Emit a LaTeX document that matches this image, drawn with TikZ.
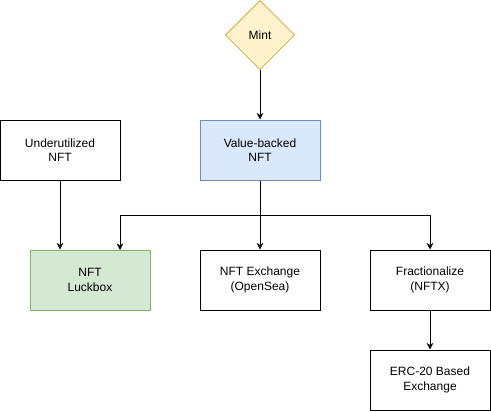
\documentclass[tikz,border=0pt]{standalone}
\usepackage{fontspec}
\setmainfont{Liberation Sans}
\usetikzlibrary{shapes.geometric,arrows.meta}

\definecolor{mintfill}{HTML}{FFF2CC}
\definecolor{mintline}{HTML}{D6B656}
\definecolor{bluefill}{HTML}{DAE8FC}
\definecolor{blueline}{HTML}{6C8EBF}
\definecolor{greenfill}{HTML}{D5E8D4}
\definecolor{greenline}{HTML}{82B366}

\tikzset{
	box/.style={draw, line width=0.75pt, minimum width=90pt, minimum height=45pt, align=center, font=\fontsize{9}{11}\selectfont},
	arrow/.style={line width=0.75pt, -{Stealth[length=5pt,width=5pt]}}
}

\begin{document}
\begin{tikzpicture}[x=0.75pt, y=-0.75pt]
			\useasboundingbox (0,0) rectangle (491,411);
			
			% Draw the mint diamond
			\node[diamond, draw=mintline, fill=mintfill, line width=0.75pt, minimum width=52pt, minimum height=52pt, inner sep=0pt, font=\fontsize{9}{11}\selectfont] (mint) at (260,35) {Mint};
			
			% Draw the top row
			\node[box] (under) at (60,150) {Underutilized\\NFT};
			\node[box, draw=blueline, fill=bluefill] (valued) at (260,150) {Value-backed\\NFT};
			
			% Draw the middle row
			\node[box, draw=greenline, fill=greenfill] (luckbox) at (90,280) {NFT\\Luckbox};
			\node[box] (exchange) at (260,280) {NFT Exchange\\(OpenSea)};
			\node[box] (fraction) at (430,280) {Fractionalize\\(NFTX)};
			
			% Draw the bottom box
			\node[box] (erc) at (430,380) {ERC-20 Based\\Exchange};
			
			% Split point and the second entry of the luckbox
			\coordinate (split) at (260,215);
			\coordinate (luckin) at (120,250);
			
			% Draw the arrows
			\draw[arrow] (mint) -- (valued);
			\draw[arrow] (under) -- (under |- luckbox.north);
			\draw[line width=0.75pt] (valued) -- (split);
			\draw[arrow] (split) -| (luckin);
			\draw[arrow] (split) -- (exchange);
			\draw[arrow] (split) -| (fraction);
			\draw[arrow] (fraction) -- (erc);
		\end{tikzpicture}
\end{document}
